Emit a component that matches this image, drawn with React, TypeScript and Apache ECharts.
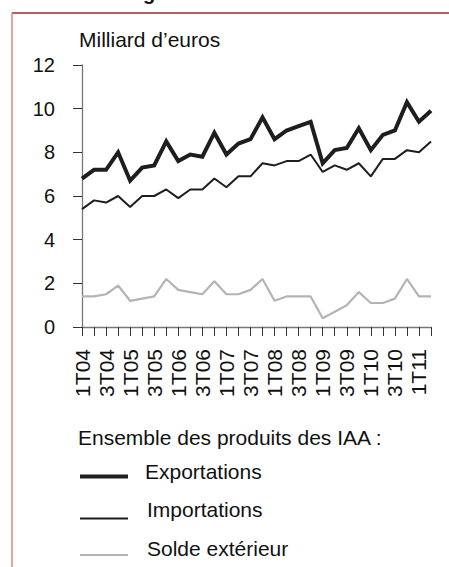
import React, { useEffect, useRef } from "react";
import * as echarts from "echarts";

const quarters = [
  "1T04", "2T04", "3T04", "4T04",
  "1T05", "2T05", "3T05", "4T05",
  "1T06", "2T06", "3T06", "4T06",
  "1T07", "2T07", "3T07", "4T07",
  "1T08", "2T08", "3T08", "4T08",
  "1T09", "2T09", "3T09", "4T09",
  "1T10", "2T10", "3T10", "4T10",
  "1T11", "2T11",
];

const exportations = [
  6.8, 7.2, 7.2, 8.0, 6.7, 7.3, 7.4, 8.5,
  7.6, 7.9, 7.8, 8.9, 7.9, 8.4, 8.6, 9.6,
  8.6, 9.0, 9.2, 9.4, 7.5, 8.1, 8.2, 9.1,
  8.1, 8.8, 9.0, 10.3, 9.4, 9.9,
];

const importations = [
  5.4, 5.8, 5.7, 6.0, 5.5, 6.0, 6.0, 6.3,
  5.9, 6.3, 6.3, 6.8, 6.4, 6.9, 6.9, 7.5,
  7.4, 7.6, 7.6, 7.9, 7.1, 7.4, 7.2, 7.5,
  6.9, 7.7, 7.7, 8.1, 8.0, 8.5,
];

const solde = [
  1.4, 1.4, 1.5, 1.9, 1.2, 1.3, 1.4, 2.2,
  1.7, 1.6, 1.5, 2.1, 1.5, 1.5, 1.7, 2.2,
  1.2, 1.4, 1.4, 1.4, 0.4, 0.7, 1.0, 1.6,
  1.1, 1.1, 1.3, 2.2, 1.4, 1.4,
];

const unitLabel = "Milliard d\u2019euros";
const legendTitle = "Ensemble des produits des IAA :";
const seriesNames = ["Exportations", "Importations", "Solde ext\u00e9rieur"];

const FONT = "'Liberation Sans', Arial, sans-serif";

export default function App() {
  const ref = useRef<HTMLDivElement>(null);

  useEffect(() => {
    if (!ref.current) return;
    const chart = echarts.init(ref.current, null, { renderer: "svg" });
    const colors = ["#1e1e1e", "#1e1e1e", "#b4b4b4"];
    const widths = [4, 2, 2.2];
    const legendY = [476.5, 518.5, 555];
    const legendTextY = [471, 509, 548];
    const legendTextX = [145, 147, 147];

    const legendGraphics: any[] = [];
    seriesNames.forEach((n, i) => {
      legendGraphics.push({
        type: "line",
        shape: { x1: 80, y1: legendY[i], x2: 128, y2: legendY[i] },
        style: { stroke: colors[i], lineWidth: widths[i] },
      });
      legendGraphics.push({
        type: "text",
        x: legendTextX[i],
        y: legendTextY[i],
        style: {
          text: n,
          font: `21px ${FONT}`,
          fill: "#111",
          verticalAlign: "middle",
        },
      });
    });

    chart.setOption({
      animation: false,
      backgroundColor: "#ffffff",
      grid: { left: 82, right: 18, top: 65, bottom: 240, containLabel: false },
      xAxis: {
        type: "category",
        data: quarters,
        boundaryGap: false,
        axisLine: { lineStyle: { color: "#777", width: 1.3 } },
        axisTick: { show: true, interval: 0, length: 9, lineStyle: { color: "#333", width: 1 } },
        axisLabel: {
          interval: 1,
          rotate: 90,
          margin: 22,
          color: "#111",
          fontSize: 21,
          fontFamily: FONT,
        },
      },
      yAxis: {
        type: "value",
        min: 0,
        max: 12,
        interval: 2,
        splitLine: { show: false },
        axisLine: { show: true, lineStyle: { color: "#777", width: 1.3 } },
        axisTick: { show: true, length: 9, lineStyle: { color: "#333", width: 1 } },
        axisLabel: {
          margin: 27,
          color: "#111",
          fontSize: 20,
          fontFamily: FONT,
        },
      },
      series: [
        {
          name: seriesNames[0],
          type: "line",
          data: exportations,
          symbol: "none",
          lineStyle: { color: colors[0], width: widths[0], join: "miter" },
          z: 3,
        },
        {
          name: seriesNames[1],
          type: "line",
          data: importations,
          symbol: "none",
          lineStyle: { color: colors[1], width: widths[1] },
          z: 2,
        },
        {
          name: seriesNames[2],
          type: "line",
          data: solde,
          symbol: "none",
          lineStyle: { color: colors[2], width: widths[2] },
          z: 1,
        },
      ],
      graphic: [
        {
          type: "line",
          shape: { x1: 12, y1: 13, x2: 449, y2: 13 },
          style: { stroke: "#a82424", lineWidth: 1.5 },
        },
        {
          type: "line",
          shape: { x1: 12, y1: 13, x2: 12, y2: 567 },
          style: { stroke: "#d68a8a", lineWidth: 1.5 },
        },
        {
          type: "text",
          x: 143,
          y: -7.5,
          style: {
            text: "g",
            font: `bold 20px ${FONT}`,
            fill: "#111",
            verticalAlign: "middle",
          },
        },
        {
          type: "text",
          x: 79,
          y: 39,
          style: {
            text: unitLabel,
            font: `21px ${FONT}`,
            fill: "#111",
            verticalAlign: "middle",
          },
        },
        {
          type: "text",
          x: 78,
          y: 437,
          style: {
            text: legendTitle,
            font: `21px ${FONT}`,
            fill: "#111",
            verticalAlign: "middle",
          },
        },
        ...legendGraphics,
      ],
    });
    return () => chart.dispose();
  }, []);

  return (
    <div
      ref={ref}
      style={{ position: "absolute", left: 0, top: 0, width: 449, height: 567 }}
    />
  );
}
